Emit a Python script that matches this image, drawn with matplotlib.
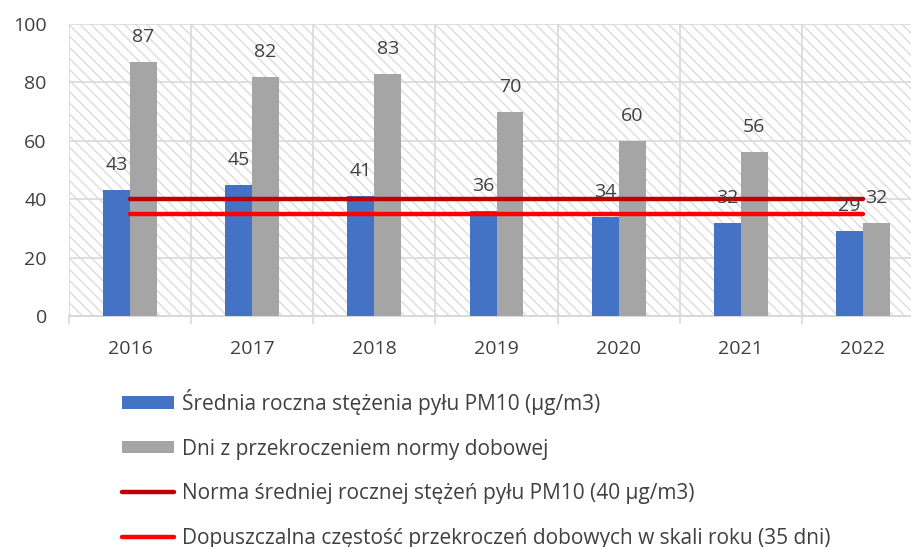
import matplotlib
matplotlib.use("Agg")
import matplotlib.pyplot as plt
import numpy as np
from matplotlib.patches import Rectangle, Patch
from matplotlib.lines import Line2D
from matplotlib.ticker import FixedLocator, MultipleLocator

plt.rcParams['font.family'] = ['Open Sans', 'DejaVu Sans']
plt.rcParams['hatch.linewidth'] = 1.0

years = ['2016', '2017', '2018', '2019', '2020', '2021', '2022']
pm10_mean = [43, 45, 41, 36, 34, 32, 29]
exceed_days = [87, 82, 83, 70, 60, 56, 32]
annual_norm = 40
allowed_days = 35

labels = [
    'Średnia roczna stężenia pyłu PM10 (µg/m3)',
    'Dni z przekroczeniem normy dobowej',
    'Norma średniej rocznej stężeń pyłu PM10 (40 µg/m3)',
    'Dopuszczalna częstość przekroczeń dobowych w skali roku (35 dni)',
]

BLUE = '#4472C4'
GRAY = '#A5A5A5'
DARKRED = '#C00000'
RED = '#FF0000'
GRID = '#D9D9D9'
TXT = '#404040'

W, H = 911, 547
fig = plt.figure(figsize=(W / 100, H / 100), dpi=100)
ax = fig.add_axes([69 / W, 1 - 316 / H, 855 / W, 292 / H])

x = np.arange(len(years))
bw = 0.22

# hatched plot background
ax.add_patch(Rectangle((0, 0), 1, 1, transform=ax.transAxes, facecolor='white',
                       edgecolor='#DCDCDC', hatch='\\\\\\', linewidth=0, zorder=0))

ax.bar(x - bw / 2, pm10_mean, bw, color=BLUE, zorder=3)
ax.bar(x + bw / 2, exceed_days, bw, color=GRAY, zorder=3)

ax.plot([x[0], x[-1]], [annual_norm, annual_norm], color=DARKRED, lw=3.2,
        solid_capstyle='round', zorder=4)
ax.plot([x[0], x[-1]], [allowed_days, allowed_days], color=RED, lw=3.2,
        solid_capstyle='round', zorder=4)

for xi, v in zip(x, pm10_mean):
    ax.annotate(str(v), (xi - bw / 2, v), xytext=(0, 18), textcoords='offset points',
                ha='center', va='center', fontsize=14, color=TXT, zorder=5)
for xi, v in zip(x, exceed_days):
    ax.annotate(str(v), (xi + bw / 2, v), xytext=(0, 18), textcoords='offset points',
                ha='center', va='center', fontsize=14, color=TXT, zorder=5)

ax.set_xlim(-0.5, len(years) - 0.5)
ax.set_ylim(0, 100)
ax.yaxis.set_major_locator(MultipleLocator(20))
ax.set_xticks(x)
ax.set_xticklabels(years)
ax.xaxis.set_minor_locator(FixedLocator(np.arange(-0.5, len(years), 1.0)))

ax.tick_params(axis='y', length=0, pad=16, labelsize=14, labelcolor=TXT)
ax.tick_params(axis='x', which='major', length=0, pad=17, labelsize=14, labelcolor=TXT)
ax.tick_params(axis='x', which='minor', length=5.5, width=1.2, color=GRID)

ax.grid(axis='y', which='major', color=GRID, lw=1.2, zorder=1)
ax.grid(axis='x', which='minor', color=GRID, lw=1.2, zorder=1)
ax.grid(axis='x', which='major', visible=False)
ax.set_axisbelow(True)
for s in ['top', 'right', 'left']:
    ax.spines[s].set_visible(False)
ax.spines['bottom'].set_color(GRID)
ax.spines['bottom'].set_linewidth(1.5)

handles = [
    Patch(facecolor=BLUE, edgecolor='none'),
    Patch(facecolor=GRAY, edgecolor='none'),
    Line2D([], [], color=DARKRED, lw=3.2, solid_capstyle='round'),
    Line2D([], [], color=RED, lw=3.2, solid_capstyle='round'),
]
fig.legend(handles, labels, loc='upper left', bbox_to_anchor=(122 / W, 1 - 389 / H),
           frameon=False, fontsize=15, labelcolor=TXT, handlelength=2.5,
           handleheight=0.55, handletextpad=0.38, labelspacing=1.13,
           borderpad=0, borderaxespad=0)

fig.savefig('out.png', dpi=100)
